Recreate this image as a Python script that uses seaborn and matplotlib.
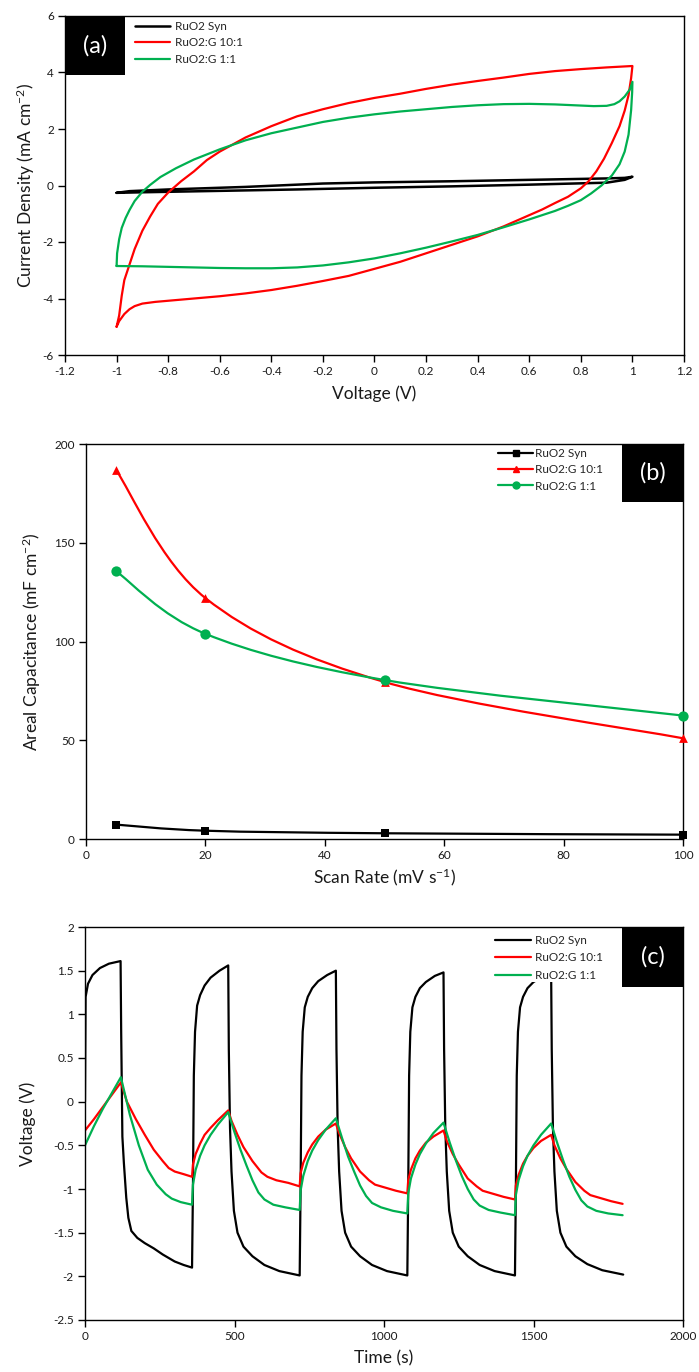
import numpy as np
import pandas as pd
import matplotlib
matplotlib.use("Agg")
import matplotlib.pyplot as plt
import seaborn as sns
from matplotlib.patches import Rectangle, PathPatch
from matplotlib.path import Path
from matplotlib.lines import Line2D
from matplotlib.ticker import FuncFormatter, MultipleLocator

# ---------------- data: panel (a) cyclic voltammetry ----------------
syn_v = [-1.0, -0.95, -0.8, -0.5, -0.2, 0.0, 0.3, 0.6, 0.9, 0.97, 1.0,
         0.97, 0.9, 0.6, 0.3, 0.0, -0.3, -0.6, -0.9, -1.0]
syn_i = [-0.26, -0.2, -0.14, -0.05, 0.07, 0.11, 0.15, 0.2, 0.25, 0.27, 0.31,
         0.2, 0.1, 0.03, -0.03, -0.08, -0.14, -0.19, -0.24, -0.26]

g10_v = [-1.0, -0.99, -0.98, -0.97, -0.95, -0.93, -0.9, -0.87, -0.84, -0.8, -0.75, -0.7, -0.65,
         -0.6, -0.5, -0.4, -0.3, -0.2, -0.1, 0.0, 0.1, 0.2, 0.3, 0.4, 0.5, 0.6, 0.7, 0.8, 0.9, 1.0,
         0.995, 0.985, 0.97, 0.95, 0.92, 0.89, 0.86, 0.83, 0.8, 0.75, 0.7, 0.65, 0.6, 0.5, 0.4, 0.3,
         0.2, 0.1, 0.0, -0.1, -0.2, -0.3, -0.4, -0.5, -0.6, -0.7, -0.8, -0.85, -0.9,
         -0.93, -0.95, -0.97, -0.99, -1.0]
g10_i = [-5.0, -4.6, -3.9, -3.35, -2.8, -2.25, -1.6, -1.1, -0.65, -0.25, 0.15, 0.5, 0.9,
         1.2, 1.7, 2.1, 2.45, 2.7, 2.92, 3.1, 3.25, 3.42, 3.57, 3.7, 3.82, 3.95, 4.05, 4.12, 4.18, 4.23,
         3.8, 3.2, 2.65, 2.1, 1.5, 0.95, 0.5, 0.15, -0.1, -0.4, -0.62, -0.85, -1.05, -1.45, -1.8, -2.1,
         -2.4, -2.7, -2.95, -3.2, -3.38, -3.55, -3.7, -3.82, -3.92, -4.0, -4.08, -4.12, -4.18,
         -4.27, -4.38, -4.55, -4.8, -5.0]

g11_v = [-1.0, -0.998, -0.99, -0.98, -0.965, -0.95, -0.93, -0.9, -0.87, -0.83, -0.77, -0.7, -0.6,
         -0.5, -0.4, -0.3, -0.2, -0.1, 0.0, 0.1, 0.2, 0.3, 0.4, 0.5, 0.6, 0.7, 0.8, 0.85, 0.9,
         0.93, 0.95, 0.97, 0.99, 1.0,
         0.999, 0.995, 0.985, 0.97, 0.95, 0.92, 0.88, 0.84, 0.8, 0.75, 0.7, 0.6, 0.5, 0.4, 0.3, 0.2,
         0.1, 0.0, -0.1, -0.2, -0.3, -0.4, -0.5, -0.6, -0.7, -0.8, -0.9, -1.0, -1.0]
g11_i = [-2.85, -2.4, -1.9, -1.5, -1.15, -0.87, -0.55, -0.22, 0.02, 0.3, 0.61, 0.92, 1.28,
         1.6, 1.85, 2.05, 2.25, 2.4, 2.52, 2.62, 2.7, 2.78, 2.84, 2.88, 2.89, 2.87, 2.83, 2.81, 2.82,
         2.88, 2.98, 3.15, 3.4, 3.67,
         3.3, 2.67, 1.8, 1.2, 0.75, 0.35, 0.0, -0.28, -0.52, -0.72, -0.9, -1.2, -1.48, -1.75, -1.98, -2.2,
         -2.4, -2.58, -2.72, -2.83, -2.9, -2.93, -2.93, -2.92, -2.9, -2.88, -2.86, -2.85, -2.85]

# ---------------- data: panel (b) areal capacitance ----------------
scan_rate = [5, 20, 50, 100]
cap_syn = [7.3, 4.2, 2.9, 2.2]
cap_g10 = [187, 122, 79.5, 51]
cap_g11 = [135.7, 103.9, 80.5, 62.5]

# ---------------- data: panel (c) charge / discharge ----------------
syn_t = [0, 2, 10, 25, 50, 80, 119, 121, 125, 130, 138, 145, 155, 175, 200, 230, 260, 300, 330, 358,
         361, 364, 368, 375, 385, 400, 420, 450, 479, 481, 485, 490, 498, 510, 530, 560, 600, 650, 718,
         721, 724, 728, 735, 745, 760, 780, 810, 839, 841, 845, 850, 858, 870, 890, 920, 960, 1010, 1078,
         1081, 1084, 1088, 1095, 1105, 1120, 1140, 1170, 1199, 1201, 1205, 1210, 1218, 1230, 1250, 1280,
         1320, 1370, 1438,
         1441, 1444, 1448, 1455, 1465, 1480, 1500, 1530, 1559, 1561, 1565, 1570, 1578, 1590, 1610, 1640,
         1680, 1730, 1800]
syn_u = [0.0, 1.2, 1.35, 1.45, 1.53, 1.58, 1.61, 0.8, -0.4, -0.7, -1.1, -1.33, -1.48, -1.56, -1.62,
         -1.68, -1.75, -1.83, -1.87, -1.9,
         -1.0, 0.3, 0.8, 1.1, 1.22, 1.33, 1.42, 1.5, 1.56, 0.6, -0.3, -0.8, -1.25, -1.5, -1.66, -1.77,
         -1.87, -1.94, -1.99,
         -1.0, 0.3, 0.8, 1.08, 1.2, 1.3, 1.38, 1.45, 1.5, 0.6, -0.3, -0.8, -1.25, -1.5, -1.66, -1.77,
         -1.87, -1.94, -1.99,
         -1.0, 0.3, 0.8, 1.08, 1.2, 1.3, 1.37, 1.44, 1.48, 0.6, -0.3, -0.8, -1.25, -1.5, -1.66, -1.77,
         -1.87, -1.94, -1.99,
         -1.0, 0.3, 0.8, 1.08, 1.2, 1.3, 1.37, 1.43, 1.47, 0.6, -0.3, -0.8, -1.25, -1.5, -1.66, -1.77,
         -1.86, -1.93, -1.98]

g10_t = [0, 30, 60, 90, 120, 140, 170, 200, 230, 260, 280, 300, 330, 358,
         361, 370, 385, 400, 420, 445, 479, 490, 510, 530, 560, 590, 610, 640, 680, 718,
         721, 730, 745, 760, 780, 805, 839, 850, 870, 890, 920, 950, 970, 1000, 1040, 1078,
         1081, 1090, 1105, 1120, 1140, 1165, 1199, 1210, 1230, 1250, 1280, 1310, 1330, 1360, 1400, 1438,
         1441, 1450, 1465, 1480, 1500, 1525, 1559, 1570, 1590, 1610, 1640, 1670, 1690, 1720, 1760, 1798]
g10_u = [-0.33, -0.2, -0.06, 0.08, 0.22, 0.0, -0.2, -0.38, -0.55, -0.68, -0.76, -0.8, -0.83, -0.86,
         -0.72, -0.6, -0.48, -0.38, -0.3, -0.21, -0.1, -0.22, -0.38, -0.52, -0.68, -0.81, -0.86, -0.9, -0.93, -0.97,
         -0.82, -0.7, -0.58, -0.49, -0.4, -0.32, -0.25, -0.36, -0.52, -0.65, -0.8, -0.9, -0.95, -0.98, -1.02, -1.05,
         -0.9, -0.78, -0.65, -0.56, -0.47, -0.4, -0.33, -0.45, -0.6, -0.72, -0.88, -0.97, -1.02, -1.05, -1.09, -1.12,
         -0.96, -0.84, -0.71, -0.62, -0.53, -0.45, -0.38, -0.5, -0.65, -0.77, -0.92, -1.02, -1.07, -1.1, -1.14, -1.17]

g11_t = [0, 30, 60, 90, 120, 150, 180, 210, 240, 270, 290, 320, 358,
         361, 370, 385, 400, 420, 445, 479, 500, 520, 540, 560, 580, 600, 630, 670, 718,
         721, 730, 745, 760, 780, 805, 839, 860, 880, 900, 920, 940, 960, 990, 1030, 1078,
         1081, 1090, 1105, 1120, 1140, 1165, 1199, 1220, 1240, 1260, 1280, 1300, 1320, 1350, 1390, 1438,
         1441, 1450, 1465, 1480, 1500, 1525, 1559, 1580, 1600, 1620, 1640, 1660, 1680, 1710, 1750, 1798]
g11_u = [-0.5, -0.28, -0.08, 0.1, 0.28, -0.15, -0.5, -0.78, -0.95, -1.06, -1.11, -1.15, -1.18,
         -0.95, -0.78, -0.62, -0.5, -0.38, -0.26, -0.12, -0.35, -0.55, -0.73, -0.9, -1.04, -1.12, -1.18, -1.21, -1.24,
         -1.02, -0.85, -0.68, -0.56, -0.44, -0.32, -0.19, -0.42, -0.63, -0.8, -0.96, -1.08, -1.16, -1.21, -1.25, -1.28,
         -1.05, -0.88, -0.72, -0.6, -0.48, -0.36, -0.24, -0.47, -0.67, -0.85, -1.0, -1.12, -1.19, -1.24, -1.27, -1.3,
         -1.07, -0.9, -0.74, -0.62, -0.5, -0.38, -0.25, -0.48, -0.68, -0.86, -1.01, -1.13, -1.2, -1.25, -1.28, -1.3]

labels = ["RuO2 Syn", "RuO2:G 10:1", "RuO2:G 1:1"]
colors = ["#000000", "#FF0000", "#00B050"]

# ---------------- style ----------------
sns.set_theme(style="white")
plt.rcParams["font.family"] = ["Lato", "DejaVu Sans"]
plt.rcParams["axes.unicode_minus"] = False
plt.rcParams["mathtext.default"] = "regular"

W, H = 699, 1372
fig = plt.figure(figsize=(W / 100, H / 100), dpi=100)


def add_ax(l, r, t, b):
    return fig.add_axes([l / W, 1 - b / H, (r - l) / W, (b - t) / H])


fmt = FuncFormatter(lambda v, p: ("%g" % round(v, 6)))
TXT = "#1a1a1a"


def style(ax):
    for s in ax.spines.values():
        s.set_visible(True)
        s.set_color("#000000")
        s.set_linewidth(1.0)
    ax.tick_params(direction="out", length=5, width=1, color="#000000",
                   labelsize=8.5, labelcolor=TXT, bottom=True, left=True, pad=3)
    ax.xaxis.set_major_formatter(fmt)
    ax.yaxis.set_major_formatter(fmt)


def tag(ax, text, x0, y0, w, h):
    ax.add_patch(Rectangle((x0, y0), w, h, transform=ax.transAxes, facecolor="black",
                           edgecolor="none", zorder=6, clip_on=False))
    ax.text(x0 + w / 2, y0 + h / 2, text, transform=ax.transAxes, color="white",
            fontsize=17, ha="center", va="center", zorder=7)


def line_df(x, y):
    return pd.DataFrame({"x": x, "y": y})


# ---------------- panel (a) ----------------
axa = add_ax(65, 684, 16, 355)
for (vx, iy), c, lab in zip([(syn_v, syn_i), (g10_v, g10_i), (g11_v, g11_i)], colors, labels):
    sns.lineplot(data=line_df(vx, iy), x="x", y="y", sort=False, estimator=None, ax=axa,
                 color=c, linewidth=1.8 if c == "#000000" else 1.6, label=lab)
axa.set_xlim(-1.2, 1.2)
axa.set_ylim(-6, 6)
axa.xaxis.set_major_locator(MultipleLocator(0.2))
axa.yaxis.set_major_locator(MultipleLocator(2))
style(axa)
axa.set_xlabel("Voltage (V)", fontsize=12.5, color=TXT, labelpad=6)
axa.set_ylabel("Current Density (mA cm$^{-2}$)", fontsize=12.5, color=TXT, labelpad=4)
axa.legend(loc="upper left", bbox_to_anchor=(0.113, 0.985), frameon=False, fontsize=8.5,
           handlelength=3.0, handletextpad=0.4, labelspacing=0.45, borderpad=0, borderaxespad=0)
tag(axa, "(a)", 0.0, 1 - 59 / 339, 60 / 619, 59 / 339)

# ---------------- panel (b) ----------------
axb = add_ax(86, 683, 444, 839)
markers = ["s", "^", "o"]
msizes = [36, 40, 55]
handles = []
for ys, c, m, ms, lab in zip([cap_syn, cap_g10, cap_g11], colors, markers, msizes, labels):
    x = np.asarray(scan_rate, float)
    y = np.asarray(ys, float)
    xp = np.concatenate([[x[0]], x, [x[-1]]])
    yp = np.concatenate([[y[0]], y, [y[-1]]])
    verts = [(x[0], y[0])]
    codes = [Path.MOVETO]
    for k in range(len(x) - 1):
        i = k + 1
        c1 = (xp[i] + (xp[i + 1] - xp[i - 1]) / 6, yp[i] + (yp[i + 1] - yp[i - 1]) / 6)
        c2 = (xp[i + 1] - (xp[i + 2] - xp[i]) / 6, yp[i + 1] - (yp[i + 2] - yp[i]) / 6)
        verts += [c1, c2, (xp[i + 1], yp[i + 1])]
        codes += [Path.CURVE4] * 3
    axb.add_patch(PathPatch(Path(verts, codes), facecolor="none", edgecolor=c, lw=1.6, zorder=2))
    sns.scatterplot(data=line_df(scan_rate, ys), x="x", y="y", ax=axb, color=c, marker=m,
                    s=ms, edgecolor=c, linewidth=0, zorder=3, clip_on=False)
    handles.append(Line2D([0], [0], color=c, lw=1.6, marker=m, markersize=5, markeredgecolor=c))
axb.set_xlim(0, 100)
axb.set_ylim(0, 200)
axb.xaxis.set_major_locator(MultipleLocator(20))
axb.yaxis.set_major_locator(MultipleLocator(50))
style(axb)
axb.set_xlabel("Scan Rate (mV s$^{-1}$)", fontsize=12.5, color=TXT, labelpad=4)
axb.set_ylabel("Areal Capacitance (mF cm$^{-2}$)", fontsize=12.5, color=TXT, labelpad=8)
axb.legend(handles, labels, loc="upper left", bbox_to_anchor=(0.69, 0.99), frameon=False,
           fontsize=8.5, handlelength=3.0, handletextpad=0.15, labelspacing=0.45, borderpad=0,
           borderaxespad=0)
tag(axb, "(b)", 1 - 61 / 597, 1 - 58 / 395, 61 / 597, 58 / 395)

# ---------------- panel (c) ----------------
axc = add_ax(85, 683, 927, 1320)
for (tx, uy), c, lab in zip([(syn_t, syn_u), (g10_t, g10_u), (g11_t, g11_u)], colors, labels):
    sns.lineplot(data=line_df(tx, uy), x="x", y="y", sort=False, estimator=None, ax=axc,
                 color=c, linewidth=1.6, label=lab)
axc.set_xlim(0, 2000)
axc.set_ylim(-2.5, 2)
axc.xaxis.set_major_locator(MultipleLocator(500))
axc.yaxis.set_major_locator(MultipleLocator(0.5))
style(axc)
axc.set_xlabel("Time (s)", fontsize=12.5, color=TXT, labelpad=6)
axc.set_ylabel("Voltage (V)", fontsize=12.5, color=TXT, labelpad=12)
leg = axc.legend(loc="upper left", bbox_to_anchor=(0.683, 0.985), frameon=True, fontsize=8.5,
                 handlelength=3.0, handletextpad=0.4, labelspacing=0.55, borderpad=0.15,
                 borderaxespad=0, facecolor="white", edgecolor="none", framealpha=1, fancybox=False)
leg.set_zorder(5)
tag(axc, "(c)", 1 - 61 / 598, 1 - 60 / 393, 61 / 598, 60 / 393)

fig.savefig("out.png", dpi=100, facecolor="white")
